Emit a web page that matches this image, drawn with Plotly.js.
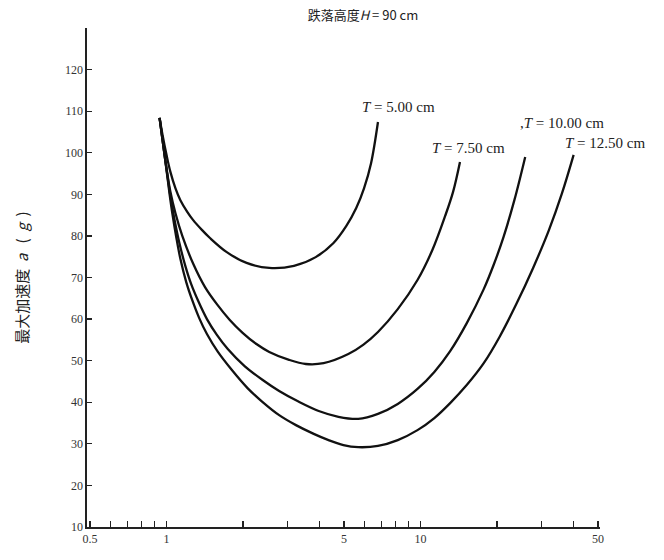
<!DOCTYPE html>
<html>
<head>
<meta charset="utf-8">
<script src="https://cdn.plot.ly/plotly-3.0.1.min.js"></script>
<style>html,body{margin:0;padding:0;background:#fff;}#chart{width:664px;height:560px;}</style>
</head>
<body>
<div id="chart"></div>
<script>
// Drop distance x (cm, log scale), max acceleration a (g)
const x_T500 = [0.9392, 0.9648, 1.000, 1.036, 1.084, 1.134, 1.207, 1.274, 1.381, 1.483, 1.727, 2.067, 2.539, 3.177, 3.869, 4.546, 5.108, 5.586, 5.999, 6.390, 6.803];
const y_T500 = [108.4, 104.3, 99.5, 95.4, 91.5, 88.6, 85.8, 83.8, 81.4, 79.5, 76.1, 73.5, 72.3, 72.8, 74.9, 78.3, 82.4, 86.7, 91.5, 97.5, 107.4];

const x_T750 = [0.9392, 0.9648, 1.000, 1.036, 1.084, 1.154, 1.274, 1.418, 1.579, 1.775, 1.994, 2.260, 2.539, 3.038, 3.537, 4.156, 5.200, 5.947, 6.803, 8.140, 9.735, 11.14, 12.51, 13.44, 14.31];
const y_T750 = [108.4, 103.1, 96.3, 90.6, 85.5, 80.0, 73.3, 67.7, 63.6, 59.8, 56.7, 54.0, 52.1, 50.2, 49.2, 49.4, 51.6, 53.8, 56.9, 62.4, 69.4, 76.6, 84.8, 90.6, 97.8];

const x_T1000 = [0.9392, 0.9648, 1.000, 1.036, 1.074, 1.124, 1.186, 1.251, 1.332, 1.443, 1.579, 1.743, 2.030, 2.385, 2.777, 3.322, 3.975, 4.754, 5.686, 6.803, 8.140, 9.735, 11.34, 13.09, 15.24, 17.75, 19.41, 21.23, 23.43, 25.85];
const y_T1000 = [108.4, 103.1, 96.1, 89.6, 84.1, 78.3, 72.8, 68.4, 64.4, 60.0, 56.2, 52.8, 48.7, 45.4, 42.7, 40.1, 37.9, 36.5, 36.0, 37.2, 39.6, 43.2, 47.3, 52.3, 59.1, 67.2, 73.0, 79.7, 88.6, 99.0];

const x_T1250 = [0.9392, 0.9648, 1.000, 1.027, 1.055, 1.094, 1.134, 1.196, 1.262, 1.344, 1.443, 1.594, 1.806, 2.085, 2.385, 2.777, 3.234, 3.800, 4.346, 4.972, 5.686, 6.803, 8.140, 9.735, 11.34, 13.09, 15.24, 17.75, 20.48, 23.85, 27.77, 32.05, 36.01, 40.10];
const y_T1250 = [108.4, 103.1, 95.9, 90.3, 85.3, 79.5, 74.5, 68.9, 64.6, 60.3, 56.4, 52.1, 47.8, 43.4, 40.1, 36.9, 34.5, 32.4, 30.9, 29.7, 29.2, 29.5, 30.9, 33.3, 36.2, 39.8, 44.2, 49.4, 55.7, 63.6, 72.3, 81.4, 90.1, 99.5];

const curveLabels = ['<i>T</i> = 5.00 cm', '<i>T</i> = 7.50 cm', ',<i>T</i> = 10.00 cm', '<i>T</i> = 12.50 cm'];
const xTickVals = [0.5, 1, 5, 10, 50];
const xTickText = ['0.5', '1', '5', '10', '50'];
const xMinorVals = [0.6, 0.7, 0.8, 0.9, 2, 3, 4, 6, 7, 8, 9, 20, 30, 40];
const yTickVals = [10, 20, 30, 40, 50, 60, 70, 80, 90, 100, 110, 120];

const lineStyle = {color: '#111', width: 2.3, shape: 'spline', smoothing: 1};
const series = [[x_T500, y_T500], [x_T750, y_T750], [x_T1000, y_T1000], [x_T1250, y_T1250]];
const traces = series.map((s, i) => ({
  x: s[0], y: s[1], type: 'scatter', mode: 'lines', line: lineStyle,
  name: curveLabels[i], showlegend: false, hoverinfo: 'skip'
}));

const xRange = [Math.log10(0.5) - 0.012, Math.log10(50) + 0.008];
const serif = 'Liberation Serif, Times New Roman, serif';
const toPaper = v => (Math.log10(v) - xRange[0]) / (xRange[1] - xRange[0]);

// label centres (x in cm on the log axis, y in g)
const labelPos = [[8.21, 111.0], [15.5, 101.2], [36.0, 107.2], [53.4, 102.4]];
const annotations = curveLabels.map((t, i) => ({
  text: t, x: toPaper(labelPos[i][0]), y: labelPos[i][1], xref: 'paper', yref: 'y',
  xanchor: 'center', yanchor: 'middle',
  showarrow: false, font: {family: serif, size: 15, color: '#222'}
}));

const nb = '\u00a0';
const layout = {
  width: 664, height: 560,
  margin: {l: 87, r: 64, t: 28, b: 33},
  paper_bgcolor: '#fff', plot_bgcolor: '#fff',
  title: {
    text: '跌落高度<i>H</i> = 90 cm', x: 0.538, xref: 'paper', xanchor: 'center',
    y: 0.973, yref: 'container', yanchor: 'middle',
    font: {family: 'Noto Sans CJK SC, ' + serif, size: 13, color: '#222'}
  },
  xaxis: {
    type: 'log', range: xRange, showgrid: false, zeroline: false,
    showline: true, linecolor: '#222', linewidth: 1.6,
    tickvals: xTickVals, ticktext: xTickText, ticks: 'inside', ticklen: 6,
    tickcolor: '#222', tickwidth: 1.2,
    tickfont: {family: serif, size: 12, color: '#333'},
    minor: {tickvals: xMinorVals, ticks: 'inside', ticklen: 6, tickcolor: '#222', tickwidth: 1.2, showgrid: false}
  },
  xaxis2: {
    type: 'log', range: xRange, overlaying: 'x', anchor: 'y', side: 'bottom',
    showgrid: false, zeroline: false, showline: false,
    tickvals: [1, 10], ticks: 'inside', ticklen: 11, tickcolor: '#222', tickwidth: 1.2,
    showticklabels: false
  },
  yaxis: {
    range: [10, 130], showgrid: false, zeroline: false,
    showline: true, linecolor: '#222', linewidth: 1.6,
    tickvals: yTickVals, ticks: 'inside', ticklen: 5, tickcolor: '#222', tickwidth: 1.2,
    tickfont: {family: serif, size: 12, color: '#333'},
    title: {text: '最大加速度' + nb + nb + '<i>a</i>' + nb + nb + nb + '(' + nb + nb + '<i>g</i>' + nb + nb + ')', standoff: 33,
      font: {family: 'Noto Sans CJK SC, sans-serif', size: 15, color: '#222'}}
  },
  annotations: annotations
};

Plotly.newPlot('chart', traces, layout, {staticPlot: true, displayModeBar: false});
</script>
</body>
</html>
